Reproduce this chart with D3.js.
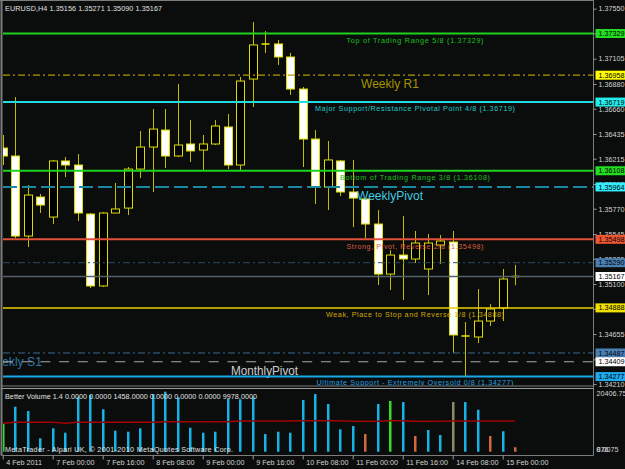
<!DOCTYPE html>
<html>
<head>
<meta charset="UTF-8">
<title>EURUSD H4</title>
<script src="https://d3js.org/d3.v7.min.js"></script>
<style>
  body { margin: 0; background: #000; }
  svg { display: block; }
  text { font-family: "Liberation Sans", Arial, sans-serif; }
</style>
</head>
<body>
<svg width="625" height="469"></svg>
<script>
// --- data (EURUSD, H4) ---
const opens  = [1.36310,1.36239,1.35527,1.35874,1.35696,1.36195,1.36159,1.35723,1.35083,1.35732,1.35776,1.36123,1.36319,1.36470,1.36239,1.36346,1.36292,1.36346,1.36497,1.36159,1.36924,1.37236,1.37236,1.37120,1.36835,1.36390,1.35963,1.36195,1.35919,1.35857,1.35634,1.35189,1.35358,1.35323,1.35234,1.35447,1.35474,1.34638,1.34629,1.34771,1.34887,1.35156];
const highs  = [1.36426,1.36764,1.35981,1.35901,1.36204,1.36230,1.36257,1.35732,1.35741,1.35999,1.36141,1.36462,1.36657,1.36657,1.36880,1.36559,1.36426,1.36559,1.36613,1.36942,1.37431,1.37351,1.37271,1.37156,1.36853,1.36470,1.36373,1.36204,1.36204,1.35865,1.35759,1.35403,1.35705,1.35572,1.35545,1.35536,1.35572,1.34762,1.35056,1.34922,1.35234,1.35271];
const lows   = [1.36159,1.35510,1.35429,1.35732,1.35634,1.36052,1.35661,1.35065,1.35074,1.35732,1.35714,1.36043,1.35919,1.36132,1.36230,1.36186,1.36106,1.36337,1.36123,1.36115,1.36675,1.37156,1.37049,1.36782,1.36141,1.35812,1.35759,1.35883,1.35607,1.35510,1.35091,1.35047,1.34958,1.35287,1.35002,1.35278,1.34486,1.34282,1.34575,1.34727,1.34771,1.35090];
const closes = [1.36239,1.35527,1.35892,1.35803,1.36195,1.36159,1.35732,1.35083,1.35732,1.35768,1.36123,1.36319,1.36479,1.36239,1.36337,1.36284,1.36346,1.36506,1.36159,1.36906,1.37227,1.37236,1.37120,1.36835,1.36390,1.35963,1.36204,1.35919,1.35865,1.35634,1.35189,1.35358,1.35323,1.35465,1.35465,1.35483,1.34647,1.34638,1.34771,1.34878,1.35145,1.35167];

const volumes = [9340,14646,13246,4360,7615,6183,17705,18454,13799,6834,6508,7615,18780,19528,17705,7810,6183,6508,17152,17054,17705,5760,6508,6183,16827,18780,15525,7289,8364,5760,15525,16501,16176,5109,7062,5434,16176,16176,13669,5109,6638,1458];
const volumeMA = [9240,9570,9570,9570,9570,9240,9570,9570,9570,9570,9570,9570,9570,9760,9760,9760,9760,9760,9760,9990,9990,9990,9990,9990,10090,10090,10090,10090,9890,9890,9890,10090,10090,9890,9890,9890,10000,10000,10000,10000,9990,9978];
const lowVolumeBars = [29, 33, 39, 41];
const churnBars = [0, 31];
const climaxBars = [36];

const timeTickBars = [0, 4, 8, 12, 16, 20, 24, 28, 32, 36, 40];
const timeLabels = ["4 Feb 2011","7 Feb 00:00","7 Feb 16:00","8 Feb 08:00","9 Feb 00:00","9 Feb 16:00","10 Feb 08:00","11 Feb 00:00","11 Feb 16:00","14 Feb 08:00","15 Feb 00:00"];

const priceTicks = [1.37550,1.37330,1.37105,1.36880,1.36660,1.36435,1.36215,1.35990,1.35770,1.35545,1.35325,1.35100,1.34880,1.34655,1.34430,1.34210];
const volumeTicks = [20406.75, 876.75, 0];

const levelPrices = [1.37329, 1.36958, 1.36719, 1.36108, 1.35964, 1.35498, 1.35290, 1.35167, 1.34888, 1.34487, 1.34409, 1.34277];
const levelTexts = [
  "Top of Trading Range  5/8  (1.37329)",
  "Weekly R1",
  "Major Support/Resistance Pivotal Point  4/8  (1.36719)",
  "Bottom of Trading Range  3/8  (1.36108)",
  "WeeklyPivot",
  "Strong,  Pivot,  Reverse  2/8  (1.35498)",
  "",
  "",
  "Weak, Place to Stop and Reverse  1/8  (1.34888)",
  "Weekly S1",
  "MonthlyPivot",
  "Ultimate Support - Extremely Oversold  0/8  (1.34277)"
];

// --- styles for each level line ---
const levelStyle = [
  {line:"#1ed21e", w:2,   dash:null,        box:"#22dd22", txt:"#1cc21c", tw:137},
  {line:"#b09a00", w:1.2, dash:"7,3,2,3",   box:"#ffff00", txt:"#a89400", big:true, tx:361, tw:58},
  {line:"#22dce4", w:2,   dash:null,        box:"#22eeee", txt:"#22cccc", tw:200},
  {line:"#1ed21e", w:2,   dash:null,        box:"#22dd22", txt:"#1cc21c", tw:150},
  {line:"#1a88a0", w:2,   dash:"14,5",      box:"#33eeff", txt:"#44c8e0", big:true, tx:357, tw:66},
  {line:"#e0503a", w:2,   dash:null,        box:"#ee5533", txt:"#dd5a40", tw:137},
  {line:"#2e4c6c", w:1,   dash:"7,3,2,3",   box:"#4a7fb4", txt:null},
  {line:"#56606a", w:1.5, dash:null,        box:"#ffffff", txt:null},
  {line:"#e8d200", w:1.5, dash:null,        box:"#f0e000", txt:"#d0a800", tw:178},
  {line:"#3a6a92", w:1,   dash:"7,3,2,3",   box:"#4a7fb4", txt:"#3474a4", big:true, tx:-16, tw:58},
  {line:"#a8a8a8", w:1.2, dash:"10,8.7",    box:"#ffffff", txt:"#cfcfcf", big:true, tx:231, tw:67},
  {line:"#18a8e8", w:2,   dash:null,        box:"#1eaaee", txt:"#22a2e0", tw:197, dy:8.2}
];

const svg = d3.select("svg");
const W = 625, H = 469;
const axisX = 593.5, priceBottom = 385, volTop = 389, volBottom = 451.7, timeY = 455.5;

const x  = d3.scaleLinear().domain([0, 41]).range([2.7, 515.2]);
const y  = d3.scaleLinear().domain([1.34202, 1.37627]).range([priceBottom, 0]);
const yv = d3.scaleLinear().domain([0, 20406.75]).range([volBottom, volTop]);

svg.append("rect").attr("width", W).attr("height", H).attr("fill", "#0a0d0c");

const defs = svg.append("defs");
defs.append("clipPath").attr("id", "clipPrice")
  .append("rect").attr("x", 3).attr("y", 2).attr("width", axisX - 3).attr("height", priceBottom - 1.5);
defs.append("clipPath").attr("id", "clipVol")
  .append("rect").attr("x", 3).attr("y", volTop).attr("width", axisX - 3).attr("height", 64);

// frame
const frame = svg.append("g").attr("stroke", "#7c7c7c").attr("stroke-width", 1);
frame.append("line").attr("x1", 0).attr("x2", axisX).attr("y1", 0.5).attr("y2", 0.5);
frame.append("line").attr("x1", 1.5).attr("x2", 1.5).attr("y1", 0).attr("y2", timeY).attr("stroke-width", 2);
frame.append("line").attr("x1", 1.5).attr("x2", axisX).attr("y1", priceBottom + 1).attr("y2", priceBottom + 1);
frame.append("line").attr("x1", 1.5).attr("x2", axisX).attr("y1", volTop - 0.5).attr("y2", volTop - 0.5).attr("stroke", "#9a9a9a");
frame.append("line").attr("x1", axisX).attr("x2", axisX).attr("y1", 0).attr("y2", timeY);

// --- candles ---
const cg = svg.append("g").attr("clip-path", "url(#clipPrice)");
const cx = i => Math.round(x(i)) + 0.5;
opens.forEach((o, i) => {
  const c = closes[i];
  cg.append("line")
    .attr("x1", cx(i)).attr("x2", cx(i))
    .attr("y1", y(highs[i])).attr("y2", y(lows[i]))
    .attr("stroke", "#c4bc00").attr("stroke-width", 1);
  const top = y(Math.max(o, c)), bot = y(Math.min(o, c));
  if (bot - top < 1.5) {
    cg.append("line")
      .attr("x1", cx(i) - 4).attr("x2", cx(i) + 4)
      .attr("y1", y(c)).attr("y2", y(c))
      .attr("stroke", "#ecea00").attr("stroke-width", 1.5);
  } else {
    cg.append("rect")
      .attr("x", cx(i) - 4).attr("y", top)
      .attr("width", 8).attr("height", bot - top)
      .attr("fill", c < o ? "#ffffff" : "#000000")
      .attr("stroke", "#e0dc00").attr("stroke-width", 1);
  }
});

// --- level lines and their labels ---
const lg = svg.append("g").attr("clip-path", "url(#clipPrice)");
levelPrices.forEach((p, i) => {
  const s = levelStyle[i];
  lg.append("line")
    .attr("x1", 3).attr("x2", axisX)
    .attr("y1", y(p)).attr("y2", y(p))
    .attr("stroke", s.line).attr("stroke-width", s.w)
    .attr("stroke-dasharray", s.dash);
  if (!levelTexts[i]) return;
  if (s.big) {
    lg.append("text")
      .attr("x", s.tx).attr("y", y(p) + 12.8)
      .attr("font-size", 12.5).attr("fill", s.txt)
      .attr("textLength", s.tw).attr("lengthAdjust", "spacingAndGlyphs")
      .text(levelTexts[i]);
  } else {
    lg.append("text")
      .attr("x", 415 - s.tw / 2).attr("y", y(p) + (s.dy || 9.3))
      .attr("font-size", 7.2).attr("fill", s.txt)
      .attr("textLength", s.tw).attr("lengthAdjust", "spacing")
      .text(levelTexts[i]);
  }
});

// --- price axis ---
const pa = svg.append("g").attr("transform", `translate(${axisX},0)`)
  .call(d3.axisRight(y).tickValues(priceTicks).tickSize(3).tickPadding(2).tickFormat(d3.format(".5f")));
pa.select(".domain").remove();
pa.selectAll("line").attr("stroke", "#9a9a9a");
pa.selectAll("text").attr("fill", "#d4d4d4").attr("font-size", 7.2).attr("font-family", "Liberation Sans, Arial, sans-serif");

const boxes = svg.append("g");
levelPrices.forEach((p, i) => {
  boxes.append("rect")
    .attr("x", axisX + 2).attr("y", y(p) - 4.5)
    .attr("width", 34).attr("height", 9)
    .attr("fill", levelStyle[i].box);
  boxes.append("text")
    .attr("x", axisX + 5).attr("y", y(p) + 2.6)
    .attr("font-size", 7.2).attr("fill", "#000")
    .text(d3.format(".5f")(p));
});

// --- volume panel ---
const vg = svg.append("g").attr("clip-path", "url(#clipVol)");
const volColor = i => churnBars.includes(i) ? "#33dd22"
  : lowVolumeBars.includes(i) ? "#d2693a"
  : climaxBars.includes(i) ? "#8c8a6c" : "#17b2e6";
vg.selectAll("rect.vol").data(volumes).join("rect")
  .attr("class", "vol")
  .attr("x", (d, i) => cx(i) - 1.5).attr("width", 2.5)
  .attr("y", d => yv(d)).attr("height", d => volBottom - yv(d))
  .attr("fill", (d, i) => volColor(i));
vg.append("path")
  .datum(volumeMA)
  .attr("d", d3.line().x((d, i) => x(i)).y(d => yv(d)))
  .attr("fill", "none").attr("stroke", "#a00000").attr("stroke-width", 1.5);

const va = svg.append("g").attr("font-size", 7.2).attr("fill", "#d4d4d4");
volumeTicks.forEach((v, i) => {
  va.append("text")
    .attr("x", axisX + 3)
    .attr("y", i === 0 ? yv(v) + 7 : yv(876.75) + 3.2)
    .text(d3.format(".2f")(v));
});

// --- time axis ---
frame.append("line").attr("x1", 1.5).attr("x2", axisX).attr("y1", timeY).attr("y2", timeY);
const ta = svg.append("g").attr("transform", `translate(0,${timeY})`)
  .call(d3.axisBottom(x).tickValues(timeTickBars).tickSize(4).tickFormat((d, i) => timeLabels[i]));
ta.select(".domain").remove();
ta.selectAll("line").attr("stroke", "#9a9a9a");
ta.selectAll("text")
  .attr("text-anchor", "start").attr("x", 3).attr("y", 4).attr("dy", "0.71em")
  .attr("fill", "#d4d4d4").attr("font-size", 7.2).attr("font-family", "Liberation Sans, Arial, sans-serif");

// --- headers ---
const hdr = svg.append("g").attr("font-size", 7.2).attr("fill", "#e2e2e2");
hdr.append("text").attr("x", 5).attr("y", 10.5)
  .attr("textLength", 157).attr("lengthAdjust", "spacing")
  .text("EURUSD,H4  1.35156 1.35271 1.35090 1.35167");
hdr.append("text").attr("x", 5).attr("y", 398.5)
  .attr("textLength", 252).attr("lengthAdjust", "spacing")
  .text("Better Volume 1.4 0.0000 0.0000 1458.0000 0.0000 0.0000 0.0000 9978.0000");
hdr.append("text").attr("x", 5).attr("y", 451.8)
  .attr("textLength", 228).attr("lengthAdjust", "spacing")
  .text("MetaTrader - Alpari UK, © 2001-2010 MetaQuotes Software Corp.");
</script>
</body>
</html>
